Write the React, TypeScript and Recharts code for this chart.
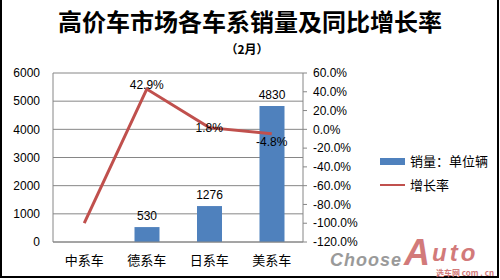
import React from "react";
import {
  ComposedChart,
  Bar,
  Line,
  XAxis,
  YAxis,
  CartesianGrid,
  LabelList,
} from "recharts";

const categories = ["中系车", "德系车", "日系车", "美系车"];
const sales = [0, 530, 1276, 4830];
const growth = [-100, 42.9, 1.8, -4.8];
const salesTicks = [0, 1000, 2000, 3000, 4000, 5000, 6000];
const growthTicks = [-120, -100, -80, -60, -40, -20, 0, 20, 40, 60];
// vertical nudge of each growth label relative to its point (null = hidden)
const growthLabelDy: (number | null)[] = [null, -4, 0, 8];

const data = categories.map((name, i) => ({
  name,
  sales: sales[i],
  growth: growth[i],
}));

const numFont = "'Liberation Sans', Arial, sans-serif";
const cjkFont = "'Noto Sans CJK SC', sans-serif";

const GrowthLabel = (props: any) => {
  const { x, y, value, index } = props;
  const i = typeof index === "number" ? index : growth.indexOf(value);
  const dy = growthLabelDy[i];
  if (dy === null || dy === undefined) return null;
  return (
    <text
      x={x}
      y={y + dy}
      textAnchor="middle"
      dominantBaseline="central"
      fontSize={12}
      fontFamily={numFont}
      fill="#000"
    >
      {Number(value).toFixed(1)}%
    </text>
  );
};

export default function App() {
  return (
    <div
      style={{
        position: "absolute",
        left: 0,
        top: 0,
        width: 500,
        height: 280,
        background: "#fff",
        overflow: "hidden",
      }}
    >
      <div
        style={{
          position: "absolute",
          left: 0,
          top: 0,
          width: 495,
          height: 276,
          border: "2px solid #000",
          borderTop: "none",
          pointerEvents: "none",
        }}
      />
      <div
        style={{
          position: "absolute",
          left: 0,
          top: 8,
          width: 500,
          textAlign: "center",
          fontFamily: cjkFont,
          fontWeight: 700,
          fontSize: 24,
          lineHeight: "26px",
        }}
      >
        高价车市场各车系销量及同比增长率
      </div>
      <div
        style={{
          position: "absolute",
          left: 0,
          top: 42,
          width: 494,
          textAlign: "center",
          fontFamily: cjkFont,
          fontWeight: 700,
          fontSize: 12,
          lineHeight: "14px",
        }}
      >
        （2月）
      </div>

      <ComposedChart
        width={500}
        height={280}
        data={data}
        margin={{ top: 73, right: 0, bottom: 8, left: 0 }}
      >
        <CartesianGrid vertical={false} stroke="#868686" yAxisId="left" />
        <XAxis
          dataKey="name"
          height={30}
          tickLine={false}
          axisLine={{ stroke: "#868686" }}
          tickMargin={8}
          tick={{ fontSize: 13, fontFamily: cjkFont, fill: "#000" }}
        />
        <YAxis
          yAxisId="left"
          width={53}
          domain={[0, 6000]}
          ticks={salesTicks}
          interval={0}
          tickLine={false}
          axisLine={{ stroke: "#868686" }}
          tickMargin={7}
          tick={{ fontSize: 12, fontFamily: numFont, fill: "#000" }}
        />
        <YAxis
          yAxisId="right"
          orientation="right"
          width={197}
          domain={[-120, 60]}
          ticks={growthTicks}
          interval={0}
          tickSize={4}
          tickLine={{ stroke: "#868686" }}
          axisLine={{ stroke: "#868686" }}
          tickMargin={6}
          tickFormatter={(v: number) => `${v.toFixed(1)}%`}
          tick={{ fontSize: 12, fontFamily: numFont, fill: "#000" }}
        />
        <Bar
          yAxisId="left"
          dataKey="sales"
          fill="#4F81BD"
          barSize={25}
          isAnimationActive={false}
        >
          <LabelList
            dataKey="sales"
            position="top"
            offset={7}
            formatter={(v: any) => (v ? v : "")}
            style={{ fontSize: 12, fontFamily: numFont, fill: "#000" }}
          />
        </Bar>
        <Line
          yAxisId="right"
          dataKey="growth"
          stroke="#C0504D"
          strokeWidth={3}
          dot={false}
          activeDot={false}
          type="linear"
          isAnimationActive={false}
        >
          <LabelList dataKey="growth" content={GrowthLabel} />
        </Line>
      </ComposedChart>

      <div
        style={{
          position: "absolute",
          left: 380,
          top: 150,
          fontFamily: cjkFont,
          fontSize: 13,
          lineHeight: "22px",
        }}
      >
        <div style={{ display: "flex", alignItems: "center" }}>
          <span
            style={{
              display: "inline-block",
              width: 25,
              height: 7,
              background: "#4F81BD",
              marginRight: 5,
            }}
          />
          销量：单位辆
        </div>
        <div style={{ display: "flex", alignItems: "center", marginTop: 2 }}>
          <span
            style={{
              display: "inline-block",
              width: 25,
              height: 2,
              background: "#C0504D",
              marginRight: 5,
            }}
          />
          增长率
        </div>
      </div>

      {/* watermark */}
      <div
        style={{
          position: "absolute",
          left: 330,
          top: 232,
          width: 165,
          height: 44,
          pointerEvents: "none",
          fontFamily: numFont,
          fontStyle: "italic",
          fontWeight: 700,
          whiteSpace: "nowrap",
        }}
      >
        <span
          style={{
            position: "absolute",
            left: 0,
            top: 19,
            fontSize: 18,
            letterSpacing: 1,
            color: "#9a9a9a",
            lineHeight: "18px",
          }}
        >
          Choose
        </span>
        <span
          style={{
            position: "absolute",
            left: 74,
            top: 3,
            fontSize: 36,
            color: "#d27a7a",
            lineHeight: "36px",
          }}
        >
          A
        </span>
        <span
          style={{
            position: "absolute",
            left: 102,
            top: 9,
            fontSize: 24,
            letterSpacing: 3,
            color: "#d27a7a",
            lineHeight: "24px",
          }}
        >
          uto
        </span>
        <span
          style={{
            position: "absolute",
            left: 106,
            top: 37,
            fontSize: 8,
            fontStyle: "normal",
            color: "#d27a7a",
            lineHeight: "8px",
            fontFamily: cjkFont,
          }}
        >
          选车网 com . cn
        </span>
      </div>
    </div>
  );
}
